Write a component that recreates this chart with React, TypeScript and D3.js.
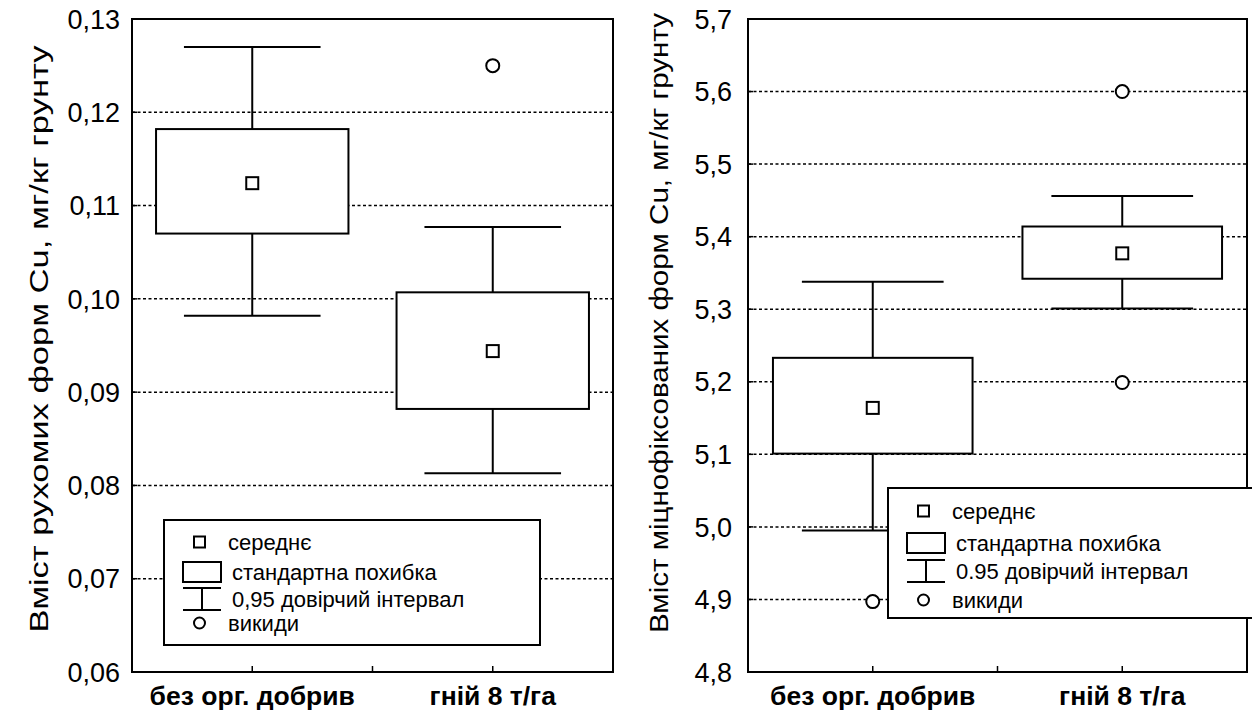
import * as d3 from "d3";

// categories on the x axis
const categories = ["без орг. добрив", "гній 8 т/га"];

// left panel: рухомі форми Cu
const leftTicks = [0.06, 0.07, 0.08, 0.09, 0.1, 0.11, 0.12, 0.13];
const leftMean = [0.1124, 0.0944];
const leftSeLow = [0.107, 0.0882];
const leftSeHigh = [0.1182, 0.1007];
const leftCiLow = [0.0982, 0.0813];
const leftCiHigh = [0.127, 0.1077];
const leftOutliers = [[], [0.125]];

// right panel: міцнофіксовані форми Cu
const rightTicks = [4.8, 4.9, 5.0, 5.1, 5.2, 5.3, 5.4, 5.5, 5.6, 5.7];
const rightMean = [5.164, 5.377];
const rightSeLow = [5.101, 5.342];
const rightSeHigh = [5.233, 5.414];
const rightCiLow = [4.995, 5.301];
const rightCiHigh = [5.338, 5.456];
const rightOutliers = [[4.897], [5.6, 5.199]];

const legendLabelsLeft = ["середнє", "стандартна похибка", "0,95 довірчий інтервал", "викиди"];
const legendLabelsRight = ["середнє", "стандартна похибка", "0.95 довірчий інтервал", "викиди"];

const FONT = "'Liberation Sans', Arial, Helvetica, sans-serif";

type PanelProps = {
  x0: number;
  x1: number;
  top: number;
  bottom: number;
  ticks: number[];
  digits: number;
  tickGap: number;
  mean: number[];
  seLow: number[];
  seHigh: number[];
  ciLow: number[];
  ciHigh: number[];
  outliers: number[][];
  yLabel: string;
  labelX: number;
  labelY: number;
  labelLen: number;
};

function Panel(p: PanelProps) {
  const y = d3
    .scaleLinear()
    .domain([p.ticks[0], p.ticks[p.ticks.length - 1]])
    .range([p.bottom, p.top]);
  const x = d3.scaleBand().domain(categories).range([p.x0, p.x1]).padding(0);
  const bw = x.bandwidth();
  const boxHalf = bw * 0.4;
  const capHalf = bw * 0.284;
  const fmt = (v: number) => v.toFixed(p.digits).replace(".", ",");
  const xTicks = [
    x(categories[0])! + bw / 2,
    (p.x0 + p.x1) / 2,
    x(categories[1])! + bw / 2,
  ];

  return (
    <g>
      {/* gridlines */}
      {p.ticks.slice(1, -1).map((t) => (
        <line
          key={"g" + t}
          x1={p.x0}
          x2={p.x1}
          y1={y(t)}
          y2={y(t)}
          stroke="#000"
          strokeWidth={1.5}
          strokeDasharray="3 2.5"
        />
      ))}
      {/* y ticks + labels */}
      {p.ticks.map((t) => (
        <g key={"t" + t}>
          <line x1={p.x0} x2={p.x0 + 5} y1={y(t)} y2={y(t)} stroke="#000" strokeWidth={1.5} />
          <text
            x={p.x0 - p.tickGap}
            y={y(t)}
            dy="0.36em"
            textAnchor="end"
            fontSize={27}
            fontFamily={FONT}
          >
            {fmt(t)}
          </text>
        </g>
      ))}
      {xTicks.map((t, i) => (
        <line key={"xt" + i} x1={t} x2={t} y1={p.bottom} y2={p.bottom - 6} stroke="#000" strokeWidth={1.5} />
      ))}
      {/* boxes */}
      {categories.map((c, i) => {
        const cx = x(c)! + bw / 2;
        return (
          <g key={c} stroke="#000" strokeWidth={2} fill="none">
            <line x1={cx} x2={cx} y1={y(p.ciHigh[i])} y2={y(p.seHigh[i])} />
            <line x1={cx} x2={cx} y1={y(p.seLow[i])} y2={y(p.ciLow[i])} />
            <line x1={cx - capHalf} x2={cx + capHalf} y1={y(p.ciHigh[i])} y2={y(p.ciHigh[i])} />
            <line x1={cx - capHalf} x2={cx + capHalf} y1={y(p.ciLow[i])} y2={y(p.ciLow[i])} />
            <rect
              x={cx - boxHalf}
              y={y(p.seHigh[i])}
              width={boxHalf * 2}
              height={y(p.seLow[i]) - y(p.seHigh[i])}
              fill="#fff"
            />
            <rect x={cx - 6} y={y(p.mean[i]) - 6} width={12} height={12} fill="#fff" />
            {p.outliers[i].map((o) => (
              <circle key={o} cx={cx} cy={y(o)} r={6.5} fill="#fff" />
            ))}
          </g>
        );
      })}
      {/* frame */}
      <rect
        x={p.x0}
        y={p.top}
        width={p.x1 - p.x0}
        height={p.bottom - p.top}
        fill="none"
        stroke="#000"
        strokeWidth={2}
      />
      {/* category labels */}
      {categories.map((c) => (
        <text
          key={"c" + c}
          x={x(c)! + bw / 2}
          y={705}
          textAnchor="middle"
          fontSize={26.5}
          fontWeight="bold"
          fontFamily={FONT}
        >
          {c}
        </text>
      ))}
      <text
        transform={`translate(${p.labelX},${p.labelY}) rotate(-90)`}
        textAnchor="middle"
        fontSize={25}
        fontFamily={FONT}
        textLength={p.labelLen}
        lengthAdjust="spacingAndGlyphs"
      >
        {p.yLabel}
      </text>
    </g>
  );
}

type LegendProps = {
  x: number;
  y: number;
  w: number;
  h: number;
  rows: number[];
  labels: string[];
};

function Legend({ x, y, w, h, rows, labels }: LegendProps) {
  return (
    <g transform={`translate(${x},${y})`}>
      <rect x={0} y={0} width={w} height={h} fill="#fff" stroke="#000" strokeWidth={2} />
      <g stroke="#000" strokeWidth={2} fill="#fff">
        <rect x={30} y={rows[0] - 5.5} width={11} height={11} />
        <rect x={19} y={rows[1] - 10} width={38} height={20} />
        <line x1={19} x2={57} y1={rows[2] - 11} y2={rows[2] - 11} />
        <line x1={19} x2={57} y1={rows[2] + 11} y2={rows[2] + 11} />
        <line x1={38} x2={38} y1={rows[2] - 11} y2={rows[2] + 11} />
        <circle cx={35.5} cy={rows[3]} r={5.5} />
      </g>
      {labels.map((l, i) => (
        <text
          key={l}
          x={i === 0 || i === 3 ? 64 : 68}
          y={rows[i]}
          dy="0.36em"
          fontSize={22}
          fontFamily={FONT}
        >
          {l}
        </text>
      ))}
    </g>
  );
}

export default function App() {
  return (
    <svg
      width={1252}
      height={717}
      style={{ position: "absolute", left: 0, top: 0, background: "#fff" }}
    >
      <rect width={1252} height={717} fill="#fff" />
      <Panel
        x0={132}
        x1={613}
        top={19}
        bottom={672}
        ticks={leftTicks}
        digits={2}
        tickGap={12}
        mean={leftMean}
        seLow={leftSeLow}
        seHigh={leftSeHigh}
        ciLow={leftCiLow}
        ciHigh={leftCiHigh}
        outliers={leftOutliers}
        yLabel="Вміст рухомих форм Cu, мг/кг грунту"
        labelX={48}
        labelY={339}
        labelLen={587}
      />
      <Panel
        x0={748}
        x1={1247}
        top={19}
        bottom={672}
        ticks={rightTicks}
        digits={1}
        tickGap={16}
        mean={rightMean}
        seLow={rightSeLow}
        seHigh={rightSeHigh}
        ciLow={rightCiLow}
        ciHigh={rightCiHigh}
        outliers={rightOutliers}
        yLabel="Вміст міцнофіксованих форм Cu, мг/кг грунту"
        labelX={668}
        labelY={323}
        labelLen={620}
      />
      <Legend x={164} y={520} w={376} h={125} rows={[22, 52, 79, 103]} labels={legendLabelsLeft} />
      <Legend x={888} y={488} w={380} h={130} rows={[23, 55, 83, 112]} labels={legendLabelsRight} />
    </svg>
  );
}
